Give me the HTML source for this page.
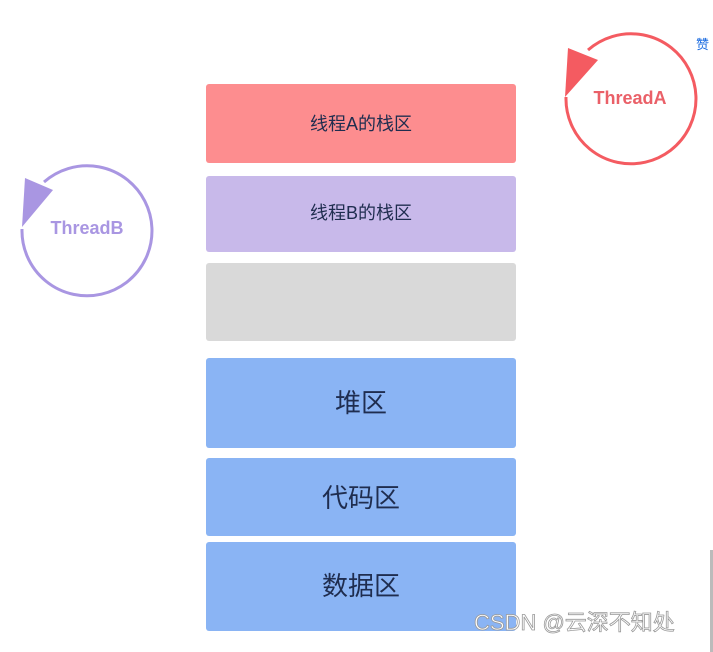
<!DOCTYPE html>
<html><head><meta charset="utf-8"><style>
body{margin:0;width:713px;height:652px;background:#fff;overflow:hidden;position:relative;font-family:"Liberation Sans","Noto Sans CJK SC",sans-serif}
.b{position:absolute;left:206px;width:310px;display:flex;align-items:center;justify-content:center;color:#1f2d4f;border-radius:3px}
</style></head><body>
<div class="b" style="top:84px;height:79px;background:#fd8d8f;font-size:18px;padding-bottom:2px;box-sizing:border-box">线程A的栈区</div>
<div class="b" style="top:176px;height:76px;background:#c8b9ea;font-size:18px;padding-bottom:4px;box-sizing:border-box">线程B的栈区</div>
<div class="b" style="top:263px;height:78px;background:#d9d9d9"></div>
<div class="b" style="top:358px;height:90px;background:#8ab4f4;font-size:26px;padding-bottom:4px;box-sizing:border-box">堆区</div>
<div class="b" style="top:458px;height:78px;background:#8ab4f4;font-size:26px;padding-bottom:2px;box-sizing:border-box">代码区</div>
<div class="b" style="top:542px;height:89px;background:#8ab4f4;font-size:26px;padding-bottom:4px;box-sizing:border-box">数据区</div>
<svg width="713" height="652" style="position:absolute;left:0;top:0">
<path d="M566 97 A65 65 0 1 0 588 50" fill="none" stroke="#f45b61" stroke-width="3"/>
<polygon points="568,48 598,60 565,97" fill="#f45b61"/>
<text x="630" y="104" text-anchor="middle" font-family="Liberation Sans" font-weight="bold" font-size="18" fill="#ea6068">ThreadA</text>
<path d="M22 229 A65 65 0 1 0 44 182" fill="none" stroke="#a996e2" stroke-width="3"/>
<polygon points="25,178 53,190 22,227" fill="#a996e2"/>
<text x="87" y="234" text-anchor="middle" font-family="Liberation Sans" font-weight="bold" font-size="18" fill="#a996e2">ThreadB</text>
<text x="474" y="630" font-family="Liberation Sans,Noto Sans CJK SC" font-size="22" fill="#fff" stroke="#999" stroke-width="0.8">CSDN @云深不知处</text>
</svg>
<div style="position:absolute;left:696px;top:34px;font-size:13px;color:#1a6be0">赞</div>
<div style="position:absolute;left:710px;top:550px;width:3px;height:102px;background:#bbb"></div>
</body></html>
